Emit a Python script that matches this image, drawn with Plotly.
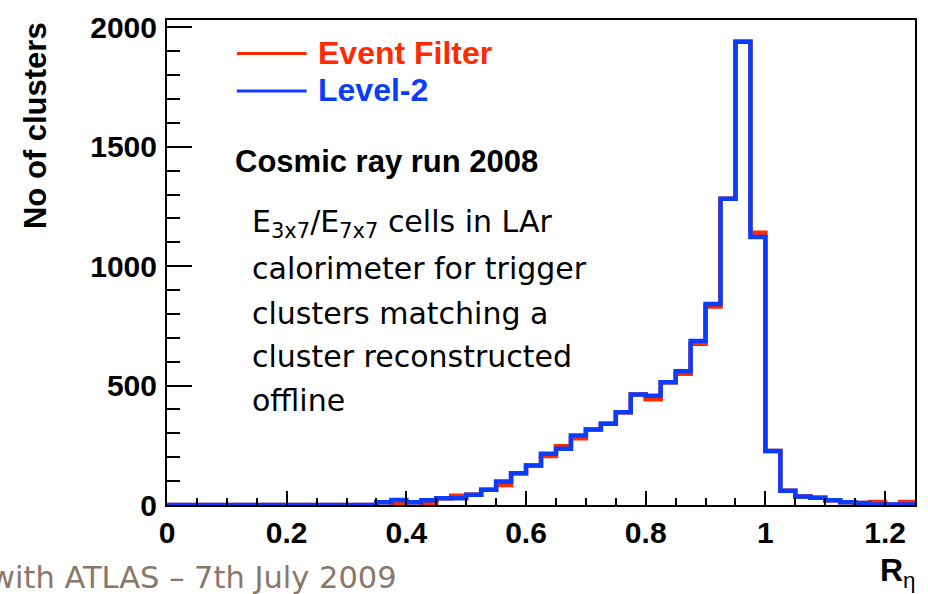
import numpy as np
import plotly.graph_objects as go

# R_eta histogram: 50 bins of width 0.025 from 0 to 1.25
bin_edges = [round(0.025 * i, 3) for i in range(51)]

level2_counts = [
    0, 0, 0, 0, 0, 0, 0, 0, 0, 0, 0, 0, 0, 0,          # 0.000 - 0.350
    12, 21, 12, 20, 28, 28, 43, 64, 98, 133,            # 0.350 - 0.600
    165, 215, 236, 291, 316, 340, 388, 463, 457, 514,   # 0.600 - 0.850
    560, 687, 842, 1282, 1940, 1122,                    # 0.850 - 1.000
    226, 60, 36, 30, 20, 11, 8, 2, 2, 2,                # 1.000 - 1.250
]
event_filter_counts = [
    0, 0, 0, 0, 0, 0, 0, 0, 0, 0, 0, 0, 0, 0,
    12, 6, 12, 6, 28, 39, 43, 64, 84, 133,
    165, 205, 246, 280, 316, 340, 388, 463, 443, 514,
    550, 675, 831, 1282, 1940, 1140,
    226, 60, 36, 30, 20, 11, 8, 13, 2, 13,
]

x_tick_vals = [0, 0.2, 0.4, 0.6, 0.8, 1.0, 1.2]
x_tick_text = ["0", "0.2", "0.4", "0.6", "0.8", "1", "1.2"]
y_tick_vals = [0, 500, 1000, 1500, 2000]
y_tick_text = ["0", "500", "1000", "1500", "2000"]

RED = "#ff2a00"
BLUE = "#0a3cff"
W, H = 928, 594
ML, MR, MT, MB = 167, 11, 14, 89


def step_outline(edges, counts):
    """Histogram outline points for an 'hv' line: top of each bin, then drop to zero."""
    xs = list(edges[:-1]) + [edges[-1]]
    ys = list(counts) + [0]
    return xs, ys


def px(xpix):
    return (xpix - ML) / (W - ML - MR)


def py(ypix):
    return (H - MB - ypix) / (H - MT - MB)


fig = go.Figure()
for name, counts, color in [("Event Filter", event_filter_counts, RED),
                            ("Level-2", level2_counts, BLUE)]:
    xs, ys = step_outline(bin_edges, counts)
    fig.add_trace(go.Scatter(x=xs, y=ys, mode="lines", name=name,
                             line=dict(color=color, width=4.5, shape="hv"),
                             showlegend=False, hoverinfo="skip"))

tick_font = dict(family="Liberation Sans, Arial, sans-serif", size=30,
                 color="black", weight="bold")

fig.update_layout(
    width=W, height=H,
    margin=dict(l=ML, r=MR, t=MT, b=MB),
    paper_bgcolor="white", plot_bgcolor="white",
    showlegend=False,
    xaxis=dict(range=[0, 1.25], tickvals=x_tick_vals, ticktext=x_tick_text,
               ticks="inside", ticklen=14, tickwidth=2, tickcolor="black",
               minor=dict(dtick=0.05, tick0=0, ticks="inside", ticklen=7,
                          tickwidth=2, tickcolor="black"),
               showline=True, linecolor="black", linewidth=2, mirror=True,
               showgrid=False, zeroline=False, tickfont=tick_font,
               ticklabelstandoff=0),
    yaxis=dict(range=[0, 2031], tickvals=y_tick_vals, ticktext=y_tick_text,
               ticks="inside", ticklen=25, tickwidth=2, tickcolor="black",
               minor=dict(dtick=100, tick0=0, ticks="inside", ticklen=13,
                          tickwidth=2, tickcolor="black"),
               showline=True, linecolor="black", linewidth=2, mirror=True,
               showgrid=False, zeroline=False, tickfont=tick_font,
               ticklabelstandoff=2),
)

# legend drawn as line samples with coloured labels
legend_items = [("Event Filter", RED, 48), ("Level-2", BLUE, 86)]
for label, color, ypix in legend_items:
    fig.add_shape(type="line", xref="paper", yref="paper",
                  x0=px(237), x1=px(307), y0=py(ypix), y1=py(ypix),
                  line=dict(color=color, width=3))
    fig.add_annotation(text=label, xref="paper", yref="paper",
                       x=px(316), y=py(ypix - 1), xanchor="left", yanchor="middle",
                       showarrow=False,
                       font=dict(family="Liberation Sans, Arial, sans-serif",
                                 size=32, color=color, weight="bold"))

fig.add_annotation(text="Cosmic ray run 2008", xref="paper", yref="paper",
                   x=px(233), y=py(157), xanchor="left", yanchor="middle",
                   showarrow=False,
                   font=dict(family="Liberation Sans, Arial, sans-serif",
                             size=31, color="black", weight="bold"))

desc_lines = [
    ("E<sub>3x7</sub>/E<sub>7x7</sub> cells in LAr", 220),
    ("calorimeter for trigger", 266),
    ("clusters matching a", 311),
    ("cluster reconstructed", 355),
    ("offline", 399),
]
for text, ypix in desc_lines:
    fig.add_annotation(text=text, xref="paper", yref="paper",
                       x=px(250), y=py(ypix), xanchor="left", yanchor="middle",
                       showarrow=False,
                       font=dict(family="DejaVu Sans, sans-serif", size=30,
                                 color="black"))

# axis titles
fig.add_annotation(text="No of clusters", xref="paper", yref="paper",
                   x=px(35), y=py(121), xanchor="center", yanchor="middle",
                   textangle=-90, showarrow=False,
                   font=dict(family="Liberation Sans, Arial, sans-serif",
                             size=31, color="black", weight="bold"))
fig.add_annotation(text="<b>R</b><sub>η</sub>", xref="paper", yref="paper",
                   x=px(920), y=py(573), xanchor="right", yanchor="middle",
                   showarrow=False,
                   font=dict(family="Liberation Sans, Arial, sans-serif",
                             size=32, color="black"))

# slide footer
fig.add_annotation(text="with ATLAS – 7th July 2009", xref="paper", yref="paper",
                   x=px(400), y=py(578), xanchor="right", yanchor="middle",
                   showarrow=False,
                   font=dict(family="DejaVu Sans, sans-serif", size=30.5,
                             color="#8a776b"))

fig.write_html("out.html")
